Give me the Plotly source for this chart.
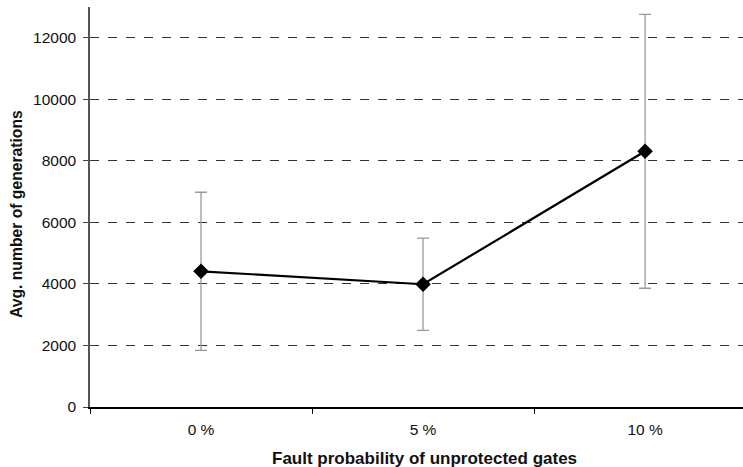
import plotly.graph_objects as go

categories = ["0 %", "5 %", "10 %"]
avg_generations = [4410, 3990, 8310]
error_up = [2570, 1500, 4450]
error_down = [2570, 1500, 4450]
y_ticks = [0, 2000, 4000, 6000, 8000, 10000, 12000]
x_title = "Fault probability of unprotected gates"
y_title = "Avg. number of generations"

fig = go.Figure()
fig.add_trace(go.Scatter(
    x=categories, y=avg_generations,
    mode="lines+markers",
    line=dict(color="black", width=2.2),
    marker=dict(symbol="diamond", size=12, color="black"),
    error_y=dict(type="data", symmetric=False, array=error_up, arrayminus=error_down,
                 color="#9a9a9a", thickness=1.3, width=6),
    showlegend=False,
))

font = "Liberation Sans, Arial, sans-serif"
fig.update_layout(
    width=743, height=467,
    margin=dict(l=90, r=0, t=7, b=60),
    paper_bgcolor="white", plot_bgcolor="white",
    font=dict(family=font, size=15.5, color="#111"),
    xaxis=dict(
        type="category", range=[-0.5, 2.441], automargin=False,
        tickson="boundaries", ticks="outside", ticklen=5, tickcolor="black",
        showline=True, linecolor="black", linewidth=1.5,
        showgrid=False, zeroline=False,
        tickfont=dict(size=15.5), ticklabelstandoff=8,
    ),
    yaxis=dict(
        range=[0, 13000], tickvals=y_ticks, tickformat="d", automargin=False,
        ticks="outside", ticklen=5, tickcolor="#444",
        showline=True, linecolor="#555", linewidth=1.5,
        showgrid=True, gridcolor="#333", griddash="dash", gridwidth=1,
        zeroline=False, tickfont=dict(size=15.5), ticklabelstandoff=4,
    ),
    annotations=[
        dict(text="<b>" + x_title + "</b>", xref="paper", yref="paper",
             x=(424 - 90) / 653, y=-(458 - 407) / 400, xanchor="center", yanchor="middle",
             showarrow=False, font=dict(size=17)),
        dict(text="<b>" + y_title + "</b>", xref="paper", yref="paper",
             x=-(90 - 16) / 653, y=(407 - 214) / 400, xanchor="center", yanchor="middle",
             textangle=-90, showarrow=False, font=dict(size=15.7)),
    ],
)
fig.write_html("out.html", config={"displayModeBar": False},
               post_script="document.body.style.margin='0';")
